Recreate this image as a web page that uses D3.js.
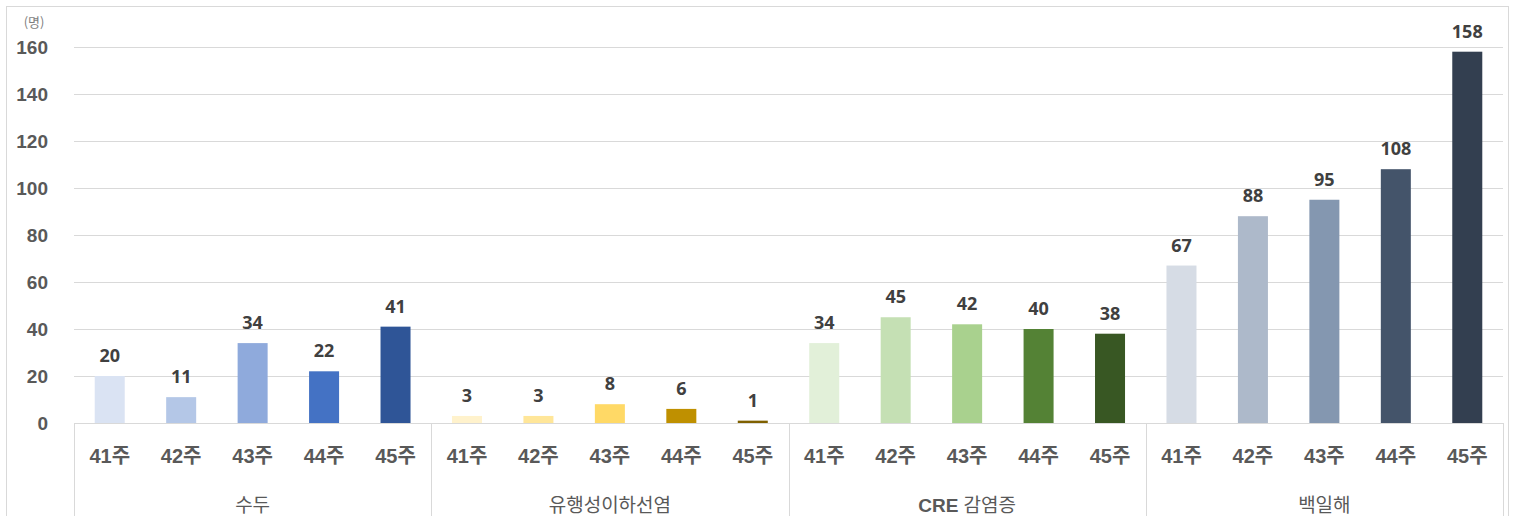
<!DOCTYPE html>
<meta charset="utf-8">
<head>
<style>
body { margin: 0; background: #ffffff; }
</style>
</head>
<script src="https://cdn.jsdelivr.net/npm/d3@7"></script>
<div id="chart"></div>
<script>

// data
var groups = ["수두", "유행성이하선염", "CRE 감염증", "백일해"];
var weeks = ["41주", "42주", "43주", "44주", "45주"];
var chickenpox = [20, 11, 34, 22, 41];
var mumps = [3, 3, 8, 6, 1];
var cre = [34, 45, 42, 40, 38];
var pertussis = [67, 88, 95, 108, 158];
var yTicks = [0, 20, 40, 60, 80, 100, 120, 140, 160];

var palettes = [
  ["#dae3f3", "#b4c7e7", "#8faadc", "#4472c4", "#2f5597"],
  ["#fff2cc", "#ffe699", "#ffd966", "#bf9000", "#7f6000"],
  ["#e2f0d9", "#c5e0b4", "#a9d18e", "#548235", "#385723"],
  ["#d6dce5", "#adb9ca", "#8497b0", "#44546a", "#333f50"]
];

var series = [chickenpox, mumps, cre, pertussis];

// flat table for bars
var rows = [];
groups.forEach(function(g, gi) {
  weeks.forEach(function(w, wi) {
    rows.push({ key: g + "|" + w, group: g, week: w, value: series[gi][wi], color: palettes[gi][wi] });
  });
});

var W = 1520, H = 516;
var plotLeft = 74, plotRight = 1503, plotTop = 47, base = 423;

var svg = d3.select("#chart").append("svg")
  .attr("width", W)
  .attr("height", H);

// outer frame
svg.append("rect")
  .attr("x", 6.5).attr("y", 6.5)
  .attr("width", 1502).attr("height", 520)
  .attr("fill", "none")
  .attr("stroke", "#d9d9d9");

var y = d3.scaleLinear().domain([0, 160]).range([base, plotTop]);

var x = d3.scaleBand()
  .domain(rows.map(function(d) { return d.key; }))
  .range([plotLeft, plotRight])
  .paddingInner(0.58)
  .paddingOuter(0.29);

var gx = d3.scaleBand().domain(groups).range([plotLeft, plotRight]);

// gridlines
svg.append("g")
  .selectAll("line")
  .data(yTicks.slice(1))
  .enter()
  .append("line")
    .attr("x1", plotLeft).attr("x2", plotRight)
    .attr("y1", function(d) { return Math.round(y(d)) + 0.5; })
    .attr("y2", function(d) { return Math.round(y(d)) + 0.5; })
    .attr("stroke", "#d9d9d9");

// y axis labels
svg.append("g")
  .selectAll("text")
  .data(yTicks)
  .enter()
  .append("text")
    .attr("x", 48)
    .attr("y", function(d) { return y(d); })
    .attr("dy", "0.36em")
    .attr("text-anchor", "end")
    .style("font-family", "'Liberation Sans', Arial, sans-serif")
    .style("font-weight", "bold")
    .style("font-size", "19px")
    .style("fill", "#595959")
    .text(function(d) { return d; });

svg.append("text")
  .attr("x", 34).attr("y", 27)
  .attr("text-anchor", "middle")
  .style("font-family", "'Noto Sans CJK KR', sans-serif")
  .style("font-size", "13px")
  .style("fill", "#7f7f7f")
  .text("(명)");

// bars
svg.append("g")
  .selectAll("rect")
  .data(rows)
  .enter()
  .append("rect")
    .attr("x", function(d) { return x(d.key); })
    .attr("y", function(d) { return y(d.value); })
    .attr("width", x.bandwidth())
    .attr("height", function(d) { return base - y(d.value); })
    .attr("fill", function(d) { return d.color; });

// value labels
svg.append("g")
  .selectAll("text")
  .data(rows)
  .enter()
  .append("text")
    .attr("x", function(d) { return x(d.key) + x.bandwidth() / 2; })
    .attr("y", function(d) { return y(d.value) - 14; })
    .attr("text-anchor", "middle")
    .style("font-family", "'Open Sans', 'Noto Sans', sans-serif")
    .style("font-weight", "bold")
    .style("font-size", "18px")
    .style("fill", "#404040")
    .text(function(d) { return d.value; });

// category axis: baseline + separators
svg.append("line")
  .attr("x1", plotLeft).attr("x2", plotRight)
  .attr("y1", base + 0.5).attr("y2", base + 0.5)
  .attr("stroke", "#d9d9d9");

var seps = groups.map(function(g) { return gx(g); }).concat([plotRight]);
svg.append("g")
  .selectAll("line")
  .data(seps)
  .enter()
  .append("line")
    .attr("x1", function(d) { return Math.round(d) + 0.5; })
    .attr("x2", function(d) { return Math.round(d) + 0.5; })
    .attr("y1", base).attr("y2", H)
    .attr("stroke", "#d9d9d9");

// week labels
svg.append("g")
  .selectAll("text")
  .data(rows)
  .enter()
  .append("text")
    .attr("x", function(d) { return x(d.key) + x.bandwidth() / 2; })
    .attr("y", 463)
    .attr("text-anchor", "middle")
    .style("font-family", "'Liberation Sans', 'Noto Sans CJK KR', sans-serif")
    .style("font-weight", "bold")
    .style("font-size", "20px")
    .style("fill", "#595959")
    .text(function(d) { return d.week; });

// group labels
svg.append("g")
  .selectAll("text")
  .data(groups)
  .enter()
  .append("text")
    .attr("x", function(d) { return gx(d) + gx.bandwidth() / 2; })
    .attr("y", 512)
    .attr("text-anchor", "middle")
    .style("font-family", "'Liberation Sans', 'Noto Sans CJK KR', sans-serif")
    .style("font-size", "19px")
    .style("fill", "#595959")
    .html(function(d) {
      return d.indexOf("CRE") === 0 ? "<tspan font-weight='bold'>CRE</tspan> 감염증" : d;
    });

</script>
